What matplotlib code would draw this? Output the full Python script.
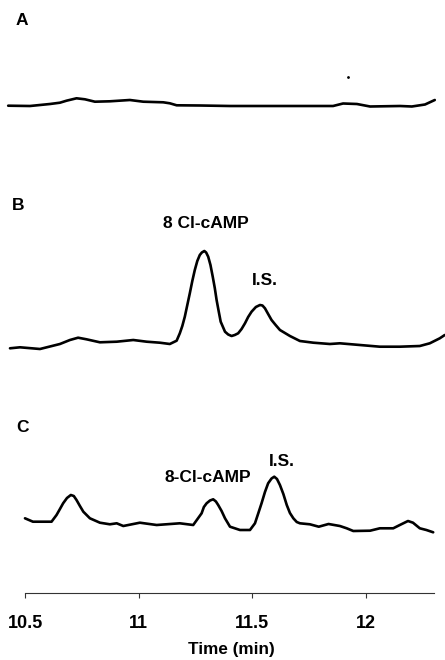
import numpy as np
import matplotlib
matplotlib.use("Agg")
import matplotlib.pyplot as plt

# chromatogram traces, time in min, response in arbitrary units above baseline
time_a = [10.425, 10.521, 10.609, 10.653, 10.682, 10.726, 10.763, 10.807, 10.873,
          10.961, 11.020, 11.108, 11.137, 11.167, 11.270, 11.402, 11.622, 11.856,
          11.900, 11.961, 12.019, 12.151, 12.203, 12.261, 12.304]
resp_a = [0.3, 0, 2, 3.3, 5.3, 7.7, 6.7, 4.3, 4.7,
          6, 4.3, 3.7, 2.7, 0.7, 0.5, 0, 0, 0,
          2.5, 2, -0.5, 0, -0.5, 1.5, 6]

time_b = [10.433, 10.477, 10.565, 10.653, 10.697, 10.733, 10.770, 10.829, 10.903,
          10.976, 11.035, 11.093, 11.137, 11.167, 11.181, 11.192, 11.203, 11.214,
          11.225, 11.236, 11.247, 11.258, 11.269, 11.278, 11.289, 11.297, 11.306,
          11.316, 11.326, 11.335, 11.343, 11.352, 11.361, 11.380, 11.394, 11.409,
          11.423, 11.438, 11.453, 11.468, 11.482, 11.497, 11.516, 11.534, 11.545,
          11.556, 11.570, 11.585, 11.603, 11.622, 11.666, 11.710, 11.769, 11.842,
          11.886, 11.974, 12.062, 12.150, 12.238, 12.282, 12.326, 12.348]
resp_b = [-2.3, -1.3, -3, 2, 6, 8.3, 6.7, 3.7, 4.3,
          6, 4.3, 3.3, 2, 5.3, 12.7, 20, 29.3, 41,
          52.7, 65, 76, 85, 91, 93.5, 95, 93.5, 89.3,
          81, 69.3, 58, 46, 35, 24.3, 14.3, 11.5, 10,
          11, 12.7, 17, 22.7, 29, 34.3, 39, 41, 40.5,
          37.7, 32, 26, 21, 16, 10, 5, 3.3, 2,
          2.7, 1, -0.7, -0.7, 0, 2.7, 7.7, 11]

time_c = [10.499, 10.534, 10.616, 10.638, 10.653, 10.667, 10.684, 10.701, 10.714,
          10.726, 10.741, 10.756, 10.785, 10.829, 10.873, 10.903, 10.932, 11.005,
          11.079, 11.181, 11.240, 11.277, 11.287, 11.299, 11.314, 11.328, 11.340,
          11.350, 11.365, 11.380, 11.391, 11.402, 11.446, 11.490, 11.512, 11.527,
          11.541, 11.556, 11.570, 11.585, 11.597, 11.609, 11.622, 11.637, 11.652,
          11.666, 11.681, 11.696, 11.710, 11.754, 11.793, 11.836, 11.886, 11.916,
          11.945, 12.019, 12.062, 12.121, 12.150, 12.186, 12.208, 12.238, 12.267,
          12.297]
resp_c = [6.7, 3.3, 3.3, 10, 16, 21.7, 27, 30, 29,
          25, 19, 13.3, 6.7, 2.3, 0.7, 1.7, -1, 2.3,
          0, 1.7, 0, 11.7, 18, 21.7, 24.5, 25.7, 23.5,
          20, 14, 6.7, 2.5, -1.7, -5, -5, 1.7, 12,
          21.7, 33, 41.7, 46.5, 48.3, 46, 40, 31, 20,
          12, 6.7, 3, 1.7, 0.7, -1.7, 1, -1, -3.3,
          -6, -5.7, -3.3, -3.3, 0, 4, 2.3, -3.3, -5,
          -7.3]

panel_labels = ["A", "B", "C"]
x_ticks = [10.5, 11, 11.5, 12]
x_tick_labels = ["10.5", "11", "11.5", "12"]

# stacking offsets for the three panels
offsets = [554, 314, 135]

plt.rcParams['font.family'] = ['Liberation Sans', 'DejaVu Sans']

fig = plt.figure(figsize=(4.45, 6.6), dpi=100)
ax = fig.add_axes([0, 0, 1, 1])
ax.set_xlim(10.389, 12.349)
ax.set_ylim(0, 660)

for t, r, off in zip([time_a, time_b, time_c], [resp_a, resp_b, resp_c], offsets):
    ax.plot(t, np.array(r) + off, color='black', lw=1.9,
            solid_joinstyle='round', solid_capstyle='round')

# stray speck in panel A
ax.plot([11.922], [29 + offsets[0]], 'o', color='black', ms=1.0)

for lab, x, y in zip(panel_labels, [10.485, 10.468, 10.488], [639.5, 454, 232.5]):
    ax.text(x, y, lab, ha='center', va='center', fontsize=12.5, fontweight='bold')

ax.text(11.296, 437, "8 Cl-cAMP", ha='center', va='center', fontsize=12.5, fontweight='bold')
ax.text(11.556, 379.5, "I.S.", ha='center', va='center', fontsize=12.5, fontweight='bold')
ax.text(11.303, 182, "8-Cl-cAMP", ha='center', va='center', fontsize=12.5, fontweight='bold')
ax.text(11.631, 198, "I.S.", ha='center', va='center', fontsize=12.5, fontweight='bold')

# bottom time axis
for side in ['top', 'right', 'left']:
    ax.spines[side].set_visible(False)
ax.spines['bottom'].set_position(('data', 67))
ax.spines['bottom'].set_bounds(10.5, 12.3)
ax.spines['bottom'].set_color('#333333')
ax.spines['bottom'].set_linewidth(0.8)
ax.set_yticks([])
ax.set_xticks(x_ticks)
ax.set_xticklabels(x_tick_labels, fontsize=13, fontweight='bold')
ax.tick_params(axis='x', direction='out', length=3.6, width=0.8, color='#333333', pad=12)
ax.set_xlabel("Time (min)", fontsize=12.3, fontweight='bold')
ax.xaxis.set_label_coords(0.519, 0.027)

fig.savefig("out.png", dpi=100)
